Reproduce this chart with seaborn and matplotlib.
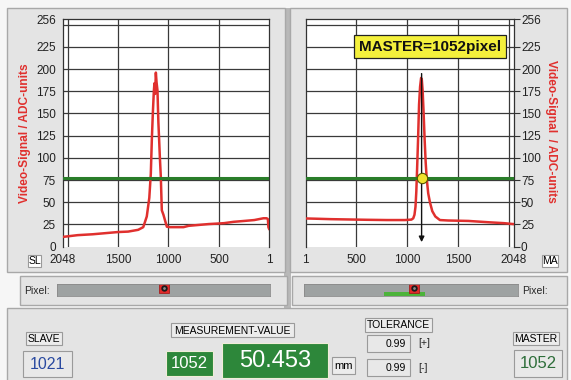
import matplotlib
matplotlib.use("Agg")
import matplotlib.pyplot as plt
from matplotlib.patches import Rectangle
import pandas as pd
import seaborn as sns

# figure size in pixels
W, H = 571, 380

# video signal of the slave sensor (left plot, pixel axis reversed)
slave_px = [2048, 1900, 1750, 1600, 1500, 1400, 1300, 1250, 1215, 1190, 1175, 1165,
            1155, 1145, 1139, 1132, 1125, 1118, 1109, 1100, 1095, 1085, 1076, 1066,
            1050, 1030, 1016, 983, 900, 851, 800, 700, 600, 520, 450, 355, 250, 150,
            60, 27, 15, 10, 1]
slave_val = [11, 13, 14, 15.5, 16.5, 17, 19, 22, 34, 55, 82, 120,
             150, 175, 184, 172, 196, 185, 176, 140, 127, 100, 79, 41,
             36, 28, 22.5, 22, 22, 22, 23.5, 24.5, 25.5, 26, 26.5, 28, 29, 30,
             32, 32, 31, 22, 19.5]

# video signal of the master sensor (right plot)
master_px = [1, 100, 250, 452, 600, 800, 975, 1040, 1058, 1070, 1080, 1088, 1095,
             1105, 1115, 1125, 1135, 1142, 1150, 1160, 1170, 1180, 1190, 1205, 1222,
             1245, 1275, 1320, 1400, 1600, 1800, 1950, 2048]
master_val = [31.8, 31.5, 31, 30.6, 30.3, 30, 30, 30.5, 32, 36, 45, 62, 85,
              120, 160, 180, 190, 188, 176, 150, 120, 95, 77, 60, 50,
              40, 34, 30, 29.5, 29, 27.5, 26.5, 25.4]

threshold = 77
master_edge = 1140
slave_bar_pos = 1021
master_bar_pos = 1052
tol_range = [765, 1158]

ticks_left = [2048, 1500, 1000, 500, 1]
ticks_right = [1, 500, 1000, 1500, 2048]
y_ticks = [0, 25, 50, 75, 100, 125, 150, 175, 200, 225, 256]
grid_x = [500, 1000, 1500, 2000]
grid_y = [25, 50, 75, 100, 125, 150, 175, 200, 225, 250]

slave_value = "1021"
master_value = "1052"
meas_pixel = "1052"
meas_mm = "50.453"
tol_plus = "0.99"
tol_minus = "0.99"

RED = "#e0302e"
GREEN = "#2a7d2a"
BOXGREEN = "#2d873a"
PANEL = "#e4e4e4"

sns.set_style("white")
plt.rcParams["font.family"] = ["Liberation Sans", "DejaVu Sans"]


def frac(x0, y0, x1, y1):
    return [x0 / W, 1 - y1 / H, (x1 - x0) / W, (y1 - y0) / H]


fig = plt.figure(figsize=(W / 100, H / 100), dpi=100)
fig.patch.set_facecolor("#f6f6f6")

bg = fig.add_axes([0, 0, 1, 1])
bg.set_xlim(0, W)
bg.set_ylim(H, 0)
bg.axis("off")


def panel(x0, y0, x1, y1, fc=PANEL, ec="#a8a8a8", lw=1.0):
    bg.add_patch(Rectangle((x0, y0), x1 - x0, y1 - y0, fc=fc, ec=ec, lw=lw))


def label_box(x0, y0, x1, y1, text, size=7.5, color="black", fc="#ececec",
              ha="center", ec="#9a9a9a"):
    panel(x0, y0, x1, y1, fc=fc, ec=ec, lw=0.8)
    tx = (x0 + x1) / 2 if ha == "center" else x1 - 4
    bg.text(tx, (y0 + y1) / 2 + 0.5, text, ha=ha, va="center", fontsize=size, color=color)


# window panels
bg.add_patch(Rectangle((284, 8), 7, 300, fc="#b8b8b8", lw=0))
panel(7, 8, 285, 272)
panel(290, 8, 567, 272)
panel(20, 276, 287, 305)
panel(292, 276, 567, 305)
panel(7, 308, 567, 382)


def style_signal_axes(ax, xlim, xticks):
    ax.set_facecolor("white")
    ax.set_xlim(*xlim)
    ax.set_ylim(0, 256)
    ax.set_xticks(xticks)
    ax.set_xticklabels([str(t) for t in xticks])
    ax.set_yticks(y_ticks)
    ax.set_yticklabels([str(t) for t in y_ticks])
    ax.grid(False)
    for gx in grid_x:
        ax.axvline(gx, color="#3a3a3a", lw=0.9, zorder=1)
    for gy in grid_y:
        ax.axhline(gy, color="#3a3a3a", lw=0.9, zorder=1)
    ax.tick_params(which="major", direction="out", length=4, width=0.8,
                   color="#333333", labelsize=8.5, pad=1, labelcolor="#222222")
    for s in ax.spines.values():
        s.set_color("#333333")
        s.set_linewidth(0.9)
    ax.spines["bottom"].set_visible(False)
    ax.set_xlabel("")
    ax.set_ylabel("")


# left plot: slave
ax1 = fig.add_axes(frac(62.7, 19.3, 269.3, 246.7))
slave_df = pd.DataFrame({"pixel": slave_px, "signal": slave_val})
sns.lineplot(data=slave_df, x="pixel", y="signal", ax=ax1, color=RED, lw=1.8,
             sort=False, zorder=3)
ax1.axhline(threshold, color=GREEN, lw=2.2, zorder=4)
style_signal_axes(ax1, (2048, 1), ticks_left)

# right plot: master
ax2 = fig.add_axes(frac(305.7, 19.3, 514, 246.7))
master_df = pd.DataFrame({"pixel": master_px, "signal": master_val})
sns.lineplot(data=master_df, x="pixel", y="signal", ax=ax2, color=RED, lw=1.8,
             sort=False, zorder=3)
ax2.axhline(threshold, color=GREEN, lw=2.2, zorder=4)
style_signal_axes(ax2, (1, 2048), ticks_right)
ax2.yaxis.tick_right()
ax2.annotate("", xy=(master_edge, 2), xytext=(master_edge, 198),
             arrowprops=dict(arrowstyle="-|>", color="#111111", lw=1.0,
                             mutation_scale=8), zorder=6)
ax2.scatter([master_edge], [threshold], s=55, color="#f0e22e", edgecolor="#555500",
            lw=0.8, zorder=7)
ax2.text(1222, 225, f"MASTER={master_value}pixel", ha="center", va="center",
         fontsize=11, fontweight="bold", color="#111111", zorder=8,
         bbox=dict(boxstyle="square,pad=0.3", fc="#f4f03c", ec="#222222", lw=0.9))

# axis titles
fig.text(25 / W, 1 - 133 / H, "Video-Signal / ADC-units", rotation=90, ha="center",
         va="center", color=RED, fontsize=8.6, fontweight="bold")
fig.text(551 / W, 1 - 131 / H, "Video-Signal  / ADC-units", rotation=270, ha="center",
         va="center", color=RED, fontsize=8.6, fontweight="bold")

label_box(28, 255, 41, 267, "SL", size=7.5, fc="white")
label_box(542, 255, 558, 267, "MA", size=7.5, fc="white")


def pixel_bar(rect, xlim, pos, tol=None):
    ax = fig.add_axes(rect)
    ax.set_facecolor("#9ea2a2")
    ax.set_xlim(*xlim)
    ax.set_ylim(0, 1)
    ax.set_xticks([])
    ax.set_yticks([])
    for s in ax.spines.values():
        s.set_color("#8a8a8a")
        s.set_linewidth(0.6)
    if tol is not None:
        ax.axvspan(tol[0], tol[1], ymin=0, ymax=0.33, color="#4cb33a", lw=0)
    ax.plot([pos], [0.66], marker="s", ms=6.5, color="#e02a2a", mec="#a01010", mew=0.5)
    ax.plot([pos], [0.66], marker="o", ms=3.6, color="#1a1a1a")
    ax.plot([pos], [0.66], marker="o", ms=1.0, color="#888888")
    return ax


pixel_bar(frac(57, 284.3, 270, 296), (2048, 1), slave_bar_pos)
pixel_bar(frac(304.3, 284.3, 517.7, 296), (1, 2048), master_bar_pos, tol_range)
bg.text(24, 291, "Pixel:", ha="left", va="center", fontsize=7.5)
bg.text(548, 291, "Pixel:", ha="right", va="center", fontsize=7.5)

# bottom panel
label_box(26, 332, 62, 345, "SLAVE")
label_box(23.3, 351, 71.7, 376.7, slave_value, size=11.5, color="#2a4aa0", fc="#e8e8e8")
label_box(171, 323.3, 294.3, 337.3, "MEASUREMENT-VALUE")
label_box(165.7, 351, 213.3, 376, meas_pixel, size=12, color="white", fc=BOXGREEN,
          ec="#f0ecd8")
label_box(221.7, 343.3, 328.3, 378.3, meas_mm, size=17, color="white", fc=BOXGREEN,
          ec="#f0ecd8")
label_box(331.7, 357.3, 355, 374, "mm", size=8)
label_box(365, 318.3, 431.7, 331.7, "TOLERANCE")
label_box(366.7, 335, 410, 351.7, tol_plus, size=7.5, ha="right", fc="#e8e8e8")
label_box(366.7, 359, 410, 376, tol_minus, size=7.5, ha="right", fc="#e8e8e8")
bg.text(418, 343.5, "[+]", ha="left", va="center", fontsize=7.5)
bg.text(418, 368, "[-]", ha="left", va="center", fontsize=7.5)
label_box(512.7, 331.7, 559, 345, "MASTER")
label_box(514.3, 350, 561.7, 376.7, master_value, size=12, color="#2e6e3a", fc="#e8e8e8")

fig.savefig("out.png", dpi=100, facecolor=fig.get_facecolor())
